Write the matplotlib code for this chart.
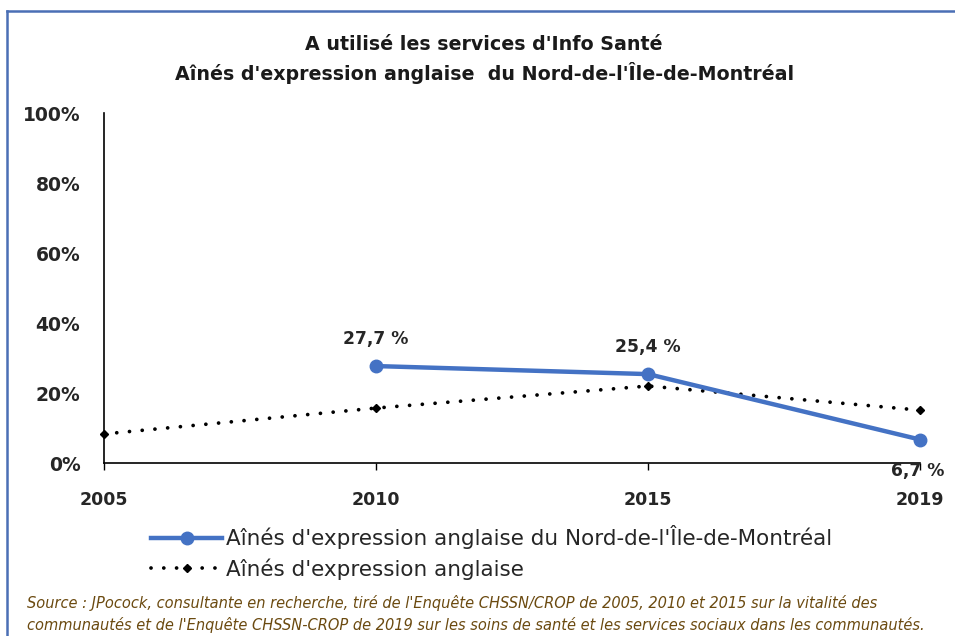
import matplotlib
matplotlib.use("Agg")
import matplotlib.pyplot as plt
from matplotlib.lines import Line2D

years = ["2005", "2010", "2015", "2019"]
nord_values = [None, 27.7, 25.4, 6.7]
nord_labels = ["", "27,7 %", "25,4 %", "6,7 %"]
anglo_values = [8.3, 15.7, 22.0, 15.1]
y_ticks = [0, 20, 40, 60, 80, 100]
y_tick_labels = ["0%", "20%", "40%", "60%", "80%", "100%"]

title = "A utilisé les services d'Info Santé\nAînés d'expression anglaise  du Nord-de-l'Île-de-Montréal"
series1_name = "Aînés d'expression anglaise du Nord-de-l'Île-de-Montréal"
series2_name = "Aînés d'expression anglaise"
source = ("Source : JPocock, consultante en recherche, tiré de l'Enquête CHSSN/CROP de 2005, 2010 et 2015 sur la vitalité des\n"
          "communautés et de l'Enquête CHSSN-CROP de 2019 sur les soins de santé et les services sociaux dans les communautés.")

plt.rcParams['font.family'] = ['DejaVu Sans']

fig = plt.figure(figsize=(9.55, 6.36), dpi=100)
ax = fig.add_axes([0.1089, 0.272, 0.8545, 0.5503])

x = list(range(len(years)))
blue = "#4472C4"
txt = "#262626"

xs1 = [i for i, v in zip(x, nord_values) if v is not None]
ys1 = [v for v in nord_values if v is not None]
ax.plot(xs1, ys1, color=blue, lw=3.2, marker="o", ms=9, zorder=4, clip_on=False,
        solid_capstyle="round")
ax.plot(x, anglo_values, color="black", lw=2.7, linestyle=(0, (0.01, 3.4)),
        dash_capstyle="round", marker="D", ms=4.5, zorder=3, clip_on=False)

for i, (v, lab) in enumerate(zip(nord_values, nord_labels)):
    if v is None:
        continue
    if i == len(years) - 1:
        ax.annotate(lab, (i, v), xytext=(-2, -16), textcoords="offset points",
                    ha="center", va="top", fontsize=12.3, fontweight="bold", color=txt)
    else:
        ax.annotate(lab, (i, v), xytext=(0, 13), textcoords="offset points",
                    ha="center", va="bottom", fontsize=12.3, fontweight="bold", color=txt)

ax.set_xlim(0, len(years) - 1)
ax.set_ylim(0, 100)
ax.set_xticks(x)
ax.set_xticklabels(years, fontsize=12.5, fontweight="bold", color=txt)
ax.set_yticks(y_ticks)
ax.set_yticklabels(y_tick_labels, fontsize=13.5, fontweight="bold", color=txt)
ax.tick_params(axis="y", length=0, pad=17)
ax.tick_params(axis="x", length=5, width=1, direction="out", pad=15)
for s in ["top", "right"]:
    ax.spines[s].set_visible(False)
ax.spines["left"].set_linewidth(1.2)
ax.spines["bottom"].set_linewidth(1.2)

fig.text(0.507, 0.906, title, ha="center", va="center", fontsize=13.7,
         fontweight="bold", color="#1a1a1a", linespacing=1.45)

handles = [Line2D([0], [0], color=blue, lw=3.2, marker="o", ms=9),
           Line2D([0], [0], color="black", lw=2.7, linestyle=(0, (0.01, 3.4)),
                  dash_capstyle="round", marker="D", ms=4.5)]
fig.legend(handles, [series1_name, series2_name], loc="center",
           bbox_to_anchor=(0.515, 0.131), frameon=False, fontsize=15.5,
           handlelength=3.3, handletextpad=0.18, labelspacing=0.42,
           labelcolor=txt)

fig.text(0.028, 0.034, source, ha="left", va="center", fontsize=10.5,
         style="italic", color="#6B4A10", linespacing=1.45)

# frame border (left and top visible)
fig.add_artist(Line2D([0.0073, 0.0073], [0.0, 0.983], color="#4A6FB5", lw=1.8,
                      transform=fig.transFigure))
fig.add_artist(Line2D([0.0073, 1.0], [0.983, 0.983], color="#4A6FB5", lw=1.8,
                      transform=fig.transFigure))

fig.savefig("out.png", dpi=100)
